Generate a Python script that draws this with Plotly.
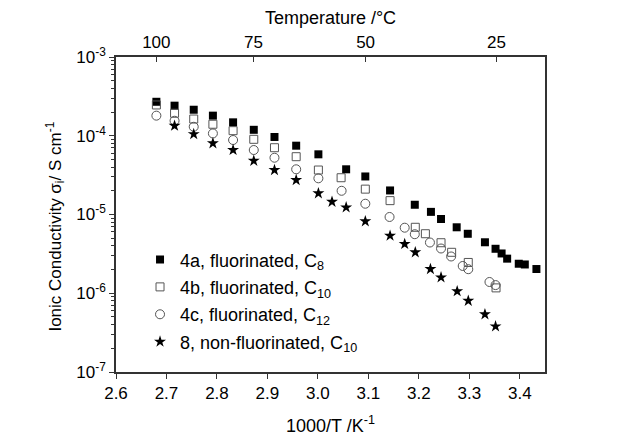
import plotly.graph_objects as go

# 1000/T (K^-1) and ionic conductivity (S cm^-1) for each material
x_4a = [2.680, 2.716, 2.754, 2.792, 2.832, 2.873, 2.914, 2.957, 3.001, 3.056, 3.094, 3.143,
        3.192, 3.224, 3.244, 3.275, 3.297, 3.331, 3.352, 3.364, 3.375, 3.398, 3.410, 3.433]
s_4a = [2.70e-4, 2.41e-4, 2.14e-4, 1.80e-4, 1.48e-4, 1.19e-4, 9.65e-5, 7.48e-5, 5.81e-5, 3.75e-5,
        3.04e-5, 2.02e-5, 1.33e-5, 1.08e-5, 8.77e-6, 6.88e-6, 5.69e-6, 4.44e-6, 3.67e-6, 3.20e-6,
        2.75e-6, 2.37e-6, 2.32e-6, 2.03e-6]

x_4b = [2.680, 2.716, 2.754, 2.792, 2.832, 2.873, 2.914, 2.957, 3.001, 3.046, 3.094, 3.143,
        3.193, 3.213, 3.244, 3.265, 3.298, 3.353]
s_4b = [2.46e-4, 1.93e-4, 1.63e-4, 1.40e-4, 1.16e-4, 9.01e-5, 7.05e-5, 5.42e-5, 3.67e-5, 2.93e-5,
        2.10e-5, 1.50e-5, 6.88e-6, 5.70e-6, 4.38e-6, 3.31e-6, 2.46e-6, 1.17e-6]

x_4c = [2.680, 2.716, 2.754, 2.792, 2.832, 2.873, 2.914, 2.957, 3.001, 3.047, 3.094, 3.142,
        3.172, 3.192, 3.222, 3.244, 3.264, 3.287, 3.298, 3.340, 3.352]
s_4c = [1.80e-4, 1.55e-4, 1.30e-4, 1.07e-4, 8.83e-5, 6.59e-5, 5.26e-5, 3.75e-5, 2.88e-5, 2.00e-5,
        1.37e-5, 9.30e-6, 6.80e-6, 5.62e-6, 4.41e-6, 3.70e-6, 2.93e-6, 2.22e-6, 2.02e-6, 1.39e-6,
        1.27e-6]

x_8 = [2.716, 2.754, 2.792, 2.832, 2.873, 2.914, 2.957, 3.001, 3.028, 3.056, 3.094, 3.143,
       3.172, 3.193, 3.223, 3.244, 3.276, 3.298, 3.331, 3.352]
s_8 = [1.34e-4, 1.05e-4, 8.02e-5, 6.59e-5, 4.81e-5, 3.67e-5, 2.74e-5, 1.86e-5, 1.45e-5, 1.23e-5,
       8.20e-6, 5.38e-6, 4.22e-6, 3.31e-6, 2.03e-6, 1.59e-6, 1.06e-6, 8.02e-7, 5.40e-7, 3.80e-7]

names = ["4a, fluorinated, C<sub>8</sub>", "4b, fluorinated, C<sub>10</sub>",
         "4c, fluorinated, C<sub>12</sub>", "8, non-fluorinated, C<sub>10</sub>"]

# top axis: temperature in degrees Celsius
temps_c = [100, 75, 50, 25]
y_exponents = [-7, -6, -5, -4, -3]

FONT = "Arial, 'Liberation Sans', sans-serif"
AXIS = "#333333"

fig = go.Figure()
styles = [
    dict(symbol="square", size=8, color="black"),
    dict(symbol="square-open", size=8, color="#555555", line=dict(width=1, color="#555555")),
    dict(symbol="circle-open", size=9, color="#555555", line=dict(width=1, color="#555555")),
    dict(symbol="star", size=9, color="black", line=dict(width=0)),
]
for i, (xs, ys) in enumerate([(x_4a, s_4a), (x_4b, s_4b), (x_4c, s_4c), (x_8, s_8)]):
    fig.add_trace(go.Scatter(x=xs, y=ys, mode="markers", name=names[i],
                             legendgroup=f"g{i}", marker=styles[i]))

# placeholder trace so the temperature axis is rendered
fig.add_trace(go.Scatter(x=[2.6, 3.45], y=[None, None], xaxis="x2", mode="markers",
                         showlegend=False, hoverinfo="skip"))

# log minor ticks at 2..9 within each decade
minor_vals = [k * 10.0 ** e for e in y_exponents[:-1] for k in range(2, 10)]

x_range = [2.6, 3.45]
fig.update_layout(
    width=619, height=437,
    margin=dict(l=116, r=74, t=57, b=65),
    paper_bgcolor="white", plot_bgcolor="white",
    font=dict(family=FONT, size=17, color="black"),
    showlegend=True,
    legend=dict(x=0.056, y=0.415, xanchor="left", yanchor="top",
                bgcolor="rgba(0,0,0,0)", traceorder="grouped", tracegroupgap=1,
                font=dict(size=18)),
    xaxis=dict(range=x_range, dtick=0.1, tick0=2.6, tickformat=".1f", automargin=False,
               showline=True, linecolor=AXIS, linewidth=1.5, mirror=False,
               ticks="outside", ticklen=5, tickcolor=AXIS, showgrid=False, zeroline=False,
               title=dict(text="1000/T /K<sup>-1</sup>", standoff=17, font=dict(size=18)),
               tickfont=dict(size=17)),
    xaxis2=dict(range=x_range, overlaying="x", side="top", automargin=False,
                tickvals=[1000 / (t + 273.15) for t in temps_c],
                ticktext=[str(t) for t in temps_c],
                showline=True, linecolor=AXIS, linewidth=1.5,
                ticks="inside", ticklen=5, tickcolor=AXIS, showgrid=False, zeroline=False,
                title=dict(text="Temperature /°C", standoff=4, font=dict(size=18)),
                tickfont=dict(size=17)),
    yaxis=dict(type="log", range=[-7, -3], automargin=False,
               tickvals=[10.0 ** e for e in y_exponents],
               ticktext=[f"10<sup>{e}</sup>" for e in y_exponents],
               showline=True, linecolor=AXIS, linewidth=1.5, mirror=True,
               ticks="outside", ticklen=5, tickcolor=AXIS, showgrid=False, zeroline=False,
               minor=dict(tickvals=minor_vals, ticks="outside", ticklen=3,
                          tickcolor=AXIS, showgrid=False),
               tickfont=dict(size=17)),
)

# y-axis title, placed as a rotated annotation
fig.add_annotation(text="Ionic Conductivity σ<sub>i</sub>/ S cm<sup>-1</sup>",
                   xref="paper", yref="paper", x=-0.142, y=0.5, yshift=-12,
                   xanchor="center", yanchor="middle", textangle=-90, showarrow=False,
                   font=dict(size=17))

fig.write_html("out.html")
